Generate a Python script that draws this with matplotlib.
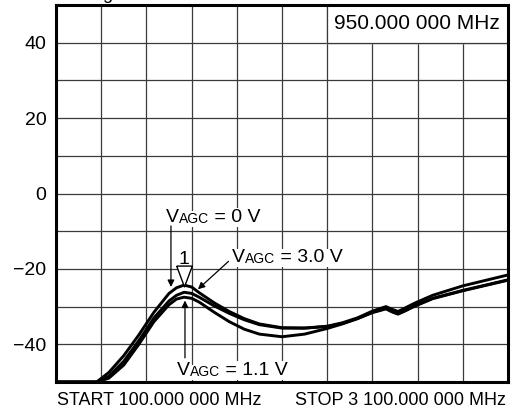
import numpy as np
import matplotlib.pyplot as plt
from matplotlib.path import Path

plt.rcParams['font.family'] = ['Liberation Sans', 'DejaVu Sans']

# Frequency sweep points (MHz) and traces (dB)
freq = [100, 370, 450, 550, 650, 750, 850, 900, 950, 1000, 1050, 1150, 1250,
        1350, 1450, 1600, 1750, 1900, 2000, 2100, 2200, 2290, 2330, 2370,
        2420, 2480, 2600, 2800, 3100]
gain_0v = [-50, -50, -47.5, -43, -37.5, -31.5, -26.5, -25, -24.3, -24.8, -26.3,
           -29.0, -31.3, -33.2, -34.6, -35.6, -35.7, -35.2, -34.3, -33.0, -31.2,
           -30.0, -30.7, -31.3, -30.3, -29.1, -27.0, -24.5, -21.6]
gain_3v = [-50, -50, -48.5, -44.5, -39, -33, -28.5, -27, -26.2, -26.5, -27.5,
           -29.8, -31.8, -33.5, -34.8, -35.7, -35.7, -35.3, -34.5, -33.2, -31.6,
           -30.6, -31.4, -32.0, -31.1, -29.9, -27.9, -25.8, -23.0]
gain_1v1 = [-50, -50, -49, -45.5, -40, -34, -29.5, -28, -27.5, -27.8, -28.8,
            -31.5, -34, -36, -37.3, -38.0, -37.3, -35.8, -34.6, -33.2, -31.5,
            -30.5, -31.3, -31.9, -31.0, -29.8, -27.8, -25.7, -22.9]

marker_freq = 950
y_labels = {40: '40', 20: '20', 0: '0', -20: '\u221220', -40: '\u221240'}

fig = plt.figure(figsize=(5.16, 4.12), dpi=100)
ax = fig.add_axes([56 / 516, 1 - 382 / 412, 452 / 516, 377 / 412])

for g in (gain_0v, gain_3v, gain_1v1):
    ax.plot(freq, g, color='black', lw=2.1, zorder=4, solid_capstyle='butt')

ax.set_xlim(100, 3100)
ax.set_ylim(-50, 50)
ax.set_xticks(np.arange(100, 3101, 300))
ax.set_yticks(np.arange(-50, 51, 10))
ax.set_xticklabels([])
ax.set_yticklabels([y_labels.get(int(v), '') for v in np.arange(-50, 51, 10)])
ax.tick_params(length=0, labelsize=14, pad=7)
ax.grid(True, color='#3a3a3a', lw=0.9)
ax.set_axisbelow(True)
for s in ax.spines.values():
    s.set_linewidth(2.2)
    s.set_zorder(6)

# centre frequency box top right
ax.fill_between([1900, 3100], 40, 50, color='white', zorder=2)
ax.plot([1900, 1900, 3100], [50, 40, 40], color='#3a3a3a', lw=0.9, zorder=2)
ax.text(2495, 45.2, '950.000 000 MHz', ha='center', va='center', fontsize=15, zorder=3)

# marker 1
tri = Path([(-0.75, 1), (0.75, 1), (0, -1), (-0.75, 1)])
ax.plot([marker_freq], [-21.8], marker=tri, ms=15, mfc='white', mec='black',
        mew=1.0, zorder=5, clip_on=False)
ax.text(marker_freq, -18.6, '1', ha='center', va='baseline', fontsize=14, zorder=5)


def agc_label(x, y, value):
    t1 = ax.text(x, y, 'V', fontsize=14, va='baseline', zorder=5,
                 bbox=dict(fc='white', ec='none', pad=0.5))
    t2 = ax.annotate('AGC', xy=(1, 0), xycoords=t1, va='bottom', fontsize=10,
                     zorder=5, bbox=dict(fc='white', ec='none', pad=0.5))
    ax.annotate(' = ' + value, xy=(1, 0), xycoords=t2, va='bottom', fontsize=14,
                zorder=5, bbox=dict(fc='white', ec='none', pad=0.5))


agc_label(830, -7.6, '0 V')
agc_label(1268, -18.3, '3.0 V')
agc_label(903, -48.2, '1.1 V')

arrow = dict(arrowstyle='-|>', color='black', lw=0.9, mutation_scale=10,
             shrinkA=0, shrinkB=0)
ax.annotate('', xy=(863, -24.8), xytext=(863, -8.6), arrowprops=arrow, zorder=5)
ax.annotate('', xy=(1042, -25.4), xytext=(1245, -18.0), arrowprops=arrow, zorder=5)
ax.annotate('', xy=(956, -28.4), xytext=(956, -43.6), arrowprops=arrow, zorder=5)

fig.text(57 / 516, 1 - 405 / 412, 'START 100.000 000 MHz', fontsize=13, ha='left', va='baseline')
fig.text(506 / 516, 1 - 405 / 412, 'STOP 3 100.000 000 MHz', fontsize=13, ha='right', va='baseline')
fig.text(114 / 516, 1 + 1 / 412, 'Mag', fontsize=13, ha='right', va='baseline')

fig.savefig('out.png', dpi=100)
